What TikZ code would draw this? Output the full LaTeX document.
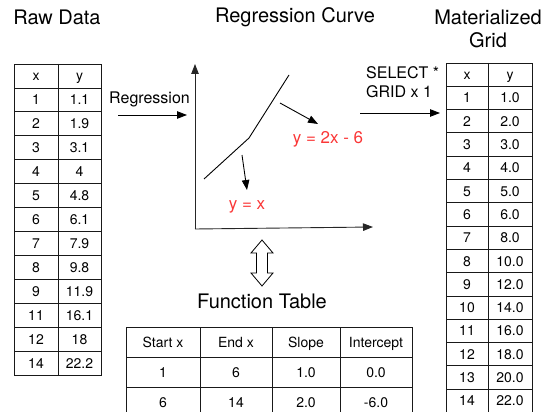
\documentclass[tikz,border=0pt]{standalone}
\usepackage{fontspec}
\setmainfont{TeX Gyre Heros}
\usetikzlibrary{arrows.meta}
\definecolor{fnred}{RGB}{250,55,55}
\begin{document}
\begin{tikzpicture}[x=1pt,y=-1pt,
  title/.style={font=\fontsize{20}{24}\selectfont, inner sep=0pt},
  lbl/.style={font=\fontsize{16}{19}\selectfont, inner sep=0pt},
  redlbl/.style={font=\fontsize{17}{20}\selectfont, inner sep=0pt, text=fnred, text height=12pt, text depth=0pt},
  cell/.style={font=\fontsize{14}{16}\selectfont, inner sep=0pt, text height=10pt, text depth=0pt},
  gridline/.style={line width=0.9pt, draw=black!90},
  arr/.style={-{Triangle[length=10pt,width=7.5pt]}, line width=0.9pt},
  ]
\useasboundingbox (0,0) rectangle (547,412);

% titles
\node[title] (t1) at (57,17) {Raw Data};
\node[title] (t2) at (295,17) {Regression Curve};
\node[title] (t3) at (488,17) {Materialized};
\node[title] (t4) at (488,40) {Grid};
\node[title] (t5) at (262,301) {Function Table};

% raw data table
\draw[gridline] (14,64) rectangle (101,375.7);
\draw[gridline] (58,64) -- (58,375.7);
\foreach \i in {1,...,12} \draw[gridline] (14,{64+\i*23.975}) -- (101,{64+\i*23.975});
\foreach \xv/\yv [count=\i] in {x/y,1/1.1,2/1.9,3/3.1,4/4,5/4.8,6/6.1,7/7.9,8/9.8,9/11.9,11/16.1,12/18,14/22.2} {
  \node[cell] (rx\i) at (36,{64+(\i-0.5)*23.975}) {\xv};
  \node[cell] (ry\i) at (79.5,{64+(\i-0.5)*23.975}) {\yv};
}

% regression arrow
\node[lbl, anchor=west] (reg) at (109,99) {Regression};
\coordinate (ra) at (118,115);
\coordinate (rb) at (187,115);
\draw[arr] (ra) -- (rb);

% chart
\coordinate (O) at (195,229);
\coordinate (Ytop) at (195,64);
\coordinate (Xend) at (373,227);
\draw[arr, draw=black!85] (O) -- (Ytop);
\draw[arr, draw=black!85] (O) -- (Xend);
\coordinate (c1) at (204,179);
\coordinate (c2) at (249,138);
\coordinate (c3) at (289,75);
\draw[line width=0.9pt] (c1) -- (c2) -- (c3);
\node[redlbl] (f1) at (247,203) {y = x};
\node[redlbl] (f2) at (328,137) {y = 2x - 6};
\coordinate (p1) at (242,155);
\coordinate (q1) at (247,190);
\coordinate (p2) at (280,103);
\coordinate (q2) at (318,124);
\draw[arr] (p1) -- (q1);
\draw[arr] (p2) -- (q2);

% double arrow
\draw[line width=0.8pt, fill=white] (262,240) -- (273,253) -- (267.5,253) -- (267.5,273) -- (273,273) -- (262,286) -- (251,273) -- (256.5,273) -- (256.5,253) -- (251,253) -- cycle;

% select arrow
\node[lbl, anchor=west, align=left] (sel) at (366,82.5) {SELECT *\\GRID x 1};
\coordinate (sa) at (360,113);
\coordinate (sb) at (440,113);
\draw[arr] (sa) -- (sb);

% materialized table
\draw[gridline] (446,63) rectangle (532,412.5);
\draw[gridline] (488,63) -- (488,412.5);
\foreach \i in {1,...,14} \draw[gridline] (446,{63+\i*23.3}) -- (532,{63+\i*23.3});
\foreach \xv/\yv [count=\i] in {x/y,1/1.0,2/2.0,3/3.0,4/4.0,5/5.0,6/6.0,7/8.0,8/10.0,9/12.0,10/14.0,11/16.0,12/18.0,13/20.0,14/22.0} {
  \node[cell] (mx\i) at (467,{63+(\i-0.5)*23.3}) {\xv};
  \node[cell] (my\i) at (510,{63+(\i-0.5)*23.3}) {\yv};
}

% function table
\draw[gridline] (126,327) rectangle (412,417);
\foreach \cx in {200,272,340} \draw[gridline] (\cx,327) -- (\cx,417);
\foreach \ry in {357,387} \draw[gridline] (126,\ry) -- (412,\ry);
\foreach \a/\b/\c/\d [count=\i] in {Start x/End x/Slope/Intercept,1/6/1.0/0.0,6/14/2.0/-6.0} {
  \node[cell] (fa\i) at (163,{327+(\i-0.5)*30}) {\a};
  \node[cell] (fb\i) at (236,{327+(\i-0.5)*30}) {\b};
  \node[cell] (fc\i) at (306,{327+(\i-0.5)*30}) {\c};
  \node[cell] (fd\i) at (376,{327+(\i-0.5)*30}) {\d};
}
\end{tikzpicture}
\end{document}
